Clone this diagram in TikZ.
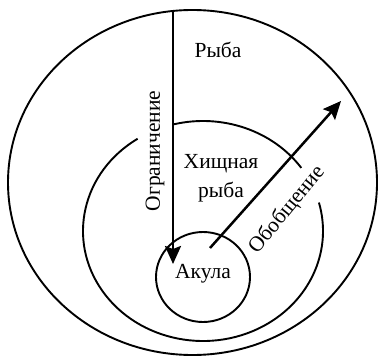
\documentclass[tikz,border=0pt]{standalone}
\usepackage{fontspec}
\setmainfont{Liberation Serif}
\usetikzlibrary{arrows.meta}
\begin{document}
\begin{tikzpicture}[x=1pt,y=-1pt,
  ring/.style={line width=1.9pt},
  arr/.style={line width=2.5pt,-{Stealth[length=18pt,width=16pt,inset=3pt]}},
  lbl/.style={inner sep=0pt,font=\fontsize{21.5}{29}\selectfont}]
\useasboundingbox (0,0) rectangle (379,358);
% centres
\coordinate (co) at (192.5,182.5);
\coordinate (cm) at (203,231);
\coordinate (ci) at (203,277);
% outer circle
\draw[ring] (co) ellipse [x radius=184.5, y radius=172.5];
% middle circle with gaps
\draw[ring] (cm) ++(-35:120 and 110) arc[start angle=-35, end angle=-104, x radius=120, y radius=110];
\draw[ring] (cm) ++(-123:120 and 110) arc[start angle=-123, end angle=-375, x radius=120, y radius=110];
% inner circle
\draw[ring] (ci) ellipse [x radius=47, y radius=45];
% labels
\node[lbl] (ryba) at (218,50) {Рыба};
\node[lbl,align=center] (hisch) at (221,178) {Хищная\\рыба};
\node[lbl] (akula) at (203,274) {Акула};
\node[lbl,rotate=90] (ogr) at (155,151) {Ограничение};
\node[lbl,rotate=50.7] (obob) at (287,210) {Обобщение};
% arrows
\coordinate (s1) at (173,11);
\coordinate (t1) at (173,264);
\coordinate (s2) at (210,248);
\coordinate (t2) at (341,101);
\draw[arr] (s1) -- (t1);
\draw[arr] (s2) -- (t2);
\end{tikzpicture}
\end{document}
